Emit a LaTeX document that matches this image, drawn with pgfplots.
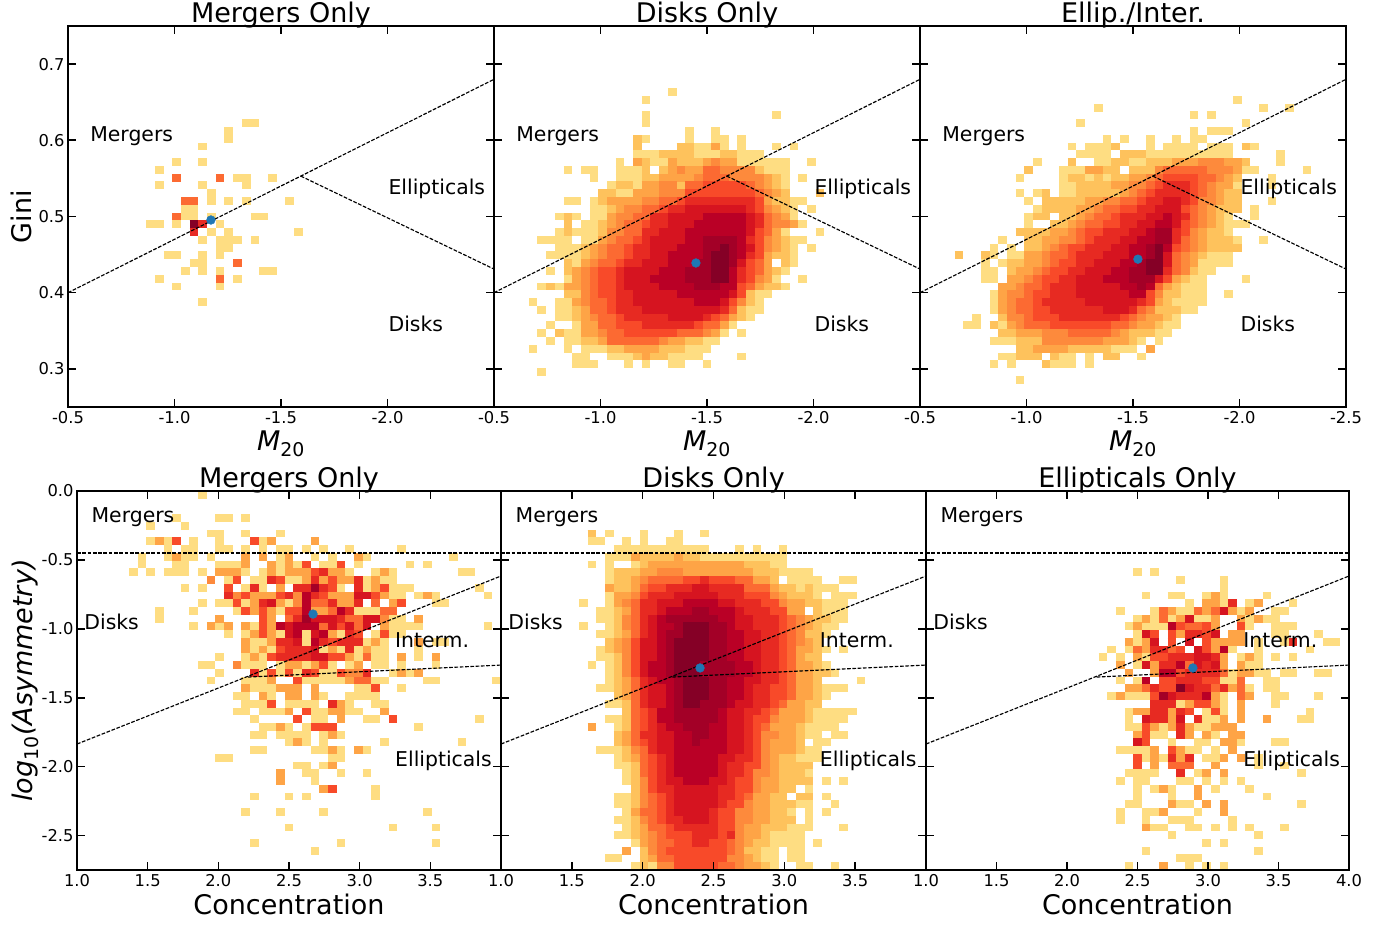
\documentclass[border=0pt]{standalone}
\usepackage{fontspec}
\setmainfont{DejaVu Sans}
\usepackage{pgfplots}
\pgfplotsset{compat=1.18}
\definecolor{c1}{HTML}{FEDD82}\definecolor{c2}{HTML}{FEC25C}\definecolor{c3}{HTML}{FEA446}
\definecolor{c4}{HTML}{FD8A3C}\definecolor{c5}{HTML}{FC6A32}\definecolor{c6}{HTML}{F84A29}
\definecolor{c7}{HTML}{E72A22}\definecolor{c8}{HTML}{D61420}\definecolor{c9}{HTML}{BA0026}
\definecolor{c10}{HTML}{A30027}\definecolor{c11}{HTML}{850026}\definecolor{dot}{HTML}{1F77B4}
\newcommand\fs[1]{\fontsize{#1}{#1}\selectfont}
\tikzset{lbl/.style={anchor=base west,inner sep=0pt,font=\fs{20.4}}}
\pgfplotsset{
 /pgfplots/table/tT/.style={header=false,row sep=crcr,
  x expr=-0.5-(2/49)*\thisrowno{1},
  y expr=0.75-(0.5/49)*(\thisrowno{0}+0.5),
  x error minus expr=(2/49)*(\thisrowno{2}+1-\thisrowno{1})},
 /pgfplots/table/tB/.style={header=false,row sep=crcr,
  x expr=1+(3/49)*\thisrowno{1},
  y expr=0-(2.75/49)*(\thisrowno{0}+0.5),
  x error plus expr=(3/49)*(\thisrowno{2}+1-\thisrowno{1})},
 eT/.style={forget plot,draw=none,mark=none,error bars/x dir=minus,error bars/x explicit,
  error bars/error mark=none,error bars/error bar style={line width=7.85pt,draw=#1,solid}},
 eB/.style={forget plot,draw=none,mark=none,error bars/x dir=plus,error bars/x explicit,
  error bars/error mark=none,error bars/error bar style={line width=7.8pt,draw=#1,solid}},
 common/.style={scale only axis,anchor=south west,axis on top,clip=true,
  axis line style={line width=2.2pt},tick style={black,line width=1.6pt},major tick length=8pt,
  tick align=inside,xtick pos=both,ytick pos=both,
  tick label style={font=\fs{16.3}},
  title style={font=\fs{27},at={(axis description cs:0.5,1)},anchor=base,yshift=-3pt},
  xlabel style={font=\fs{27},at={(axis description cs:0.5,0)},anchor=base,yshift=-44pt},
  ylabel style={font=\fs{27}},
  xticklabel style={yshift=-1pt}},
 top/.style={common,width=426pt,height=381pt,x dir=reverse,xmin=-2.5,xmax=-0.5,ymin=0.25,ymax=0.75,
  xtick={-0.5,-1,-1.5,-2,-2.5},ytick={0.3,0.4,0.5,0.6,0.7},
  xticklabels={-0.5,-1.0,-1.5,-2.0,{}},
  xlabel={\textit{M}\textsubscript{20}},
  ylabel style={at={(axis description cs:-0.0845,0.5)},anchor=base}},
 bot/.style={common,height=379pt,xmin=1,xmax=4,ymin=-2.75,ymax=0,
  xtick={1,1.5,2,2.5,3,3.5,4},ytick={-2.5,-2,-1.5,-1,-0.5,0},
  xticklabels={1.0,1.5,2.0,2.5,3.0,3.5,{}},xlabel={Concentration},
  ylabel style={at={(axis description cs:-0.104,0.5)},anchor=base}},
 noy/.style={yticklabels={}},
 dsh/.style={black,line width=1.15pt,dash pattern=on 3.7pt off 1.6pt,forget plot},
 dotp/.style={only marks,mark=*,mark size=4.4pt,color=dot,mark options={draw=dot,fill=dot},forget plot}
}
\newcommand\rT[2]{\addplot[eT={#1}] table[tT]{#2};}
\newcommand\rB[2]{\addplot[eB={#1}] table[tB]{#2};}
\newcommand\topextras{
 \addplot[dsh] coordinates {(-0.5,0.40) (-2.5,0.68)};
 \addplot[dsh] coordinates {(-1.593,0.553) (-2.5,0.431)};
 \node[lbl] at (axis description cs:0.052,0.697) {Mergers};
 \node[lbl] at (axis description cs:0.752,0.558) {Ellipticals};
 \node[lbl] at (axis description cs:0.752,0.197) {Disks};
}
\newcommand\botextras{
 \addplot[dsh] coordinates {(1,-1.836) (4,-0.617)};
 \addplot[dsh] coordinates {(2.21,-1.35) (4,-1.263)};
 \addplot[dsh] coordinates {(1,-0.45) (4,-0.45)};
 \node[lbl] at (axis description cs:0.034,0.918) {Mergers};
 \node[lbl] at (axis description cs:0.017,0.635) {Disks};
 \node[lbl] at (axis description cs:0.75,0.588) {Interm.};
 \node[lbl] at (axis description cs:0.75,0.272) {Ellipticals};
}
\begin{document}
\begin{tikzpicture}[x=1pt,y=1pt]
\useasboundingbox (0,0) rectangle (1390,924);
% ---------- top left
\begin{axis}[top,at={(68pt,517pt)},title={Mergers Only},ylabel={Gini},yticklabels={0.3,0.4,0.5,0.6,0.7}]
\rT{c1}{12 20 21\\13 18 18\\14 18 18\\15 15 15\\17 12 12\\17 15 15\\18 10 10\\19 19 20\\19 23 23\\20 10 10\\20 15 15\\20 20 20\\21 16 16\\22 16 16\\22 18 18\\22 20 20\\22 25 25\\23 13 14\\24 13 14\\24 16 16\\24 21 22\\25 9 10\\25 12 12\\25 17 17\\26 16 16\\26 18 18\\26 26 26\\27 15 15\\27 17 19\\27 21 21\\28 17 18\\29 11 12\\29 15 15\\29 17 17\\30 14 15\\31 13 13\\31 15 15\\31 17 17\\31 22 23\\32 10 10\\32 19 19\\33 12 12\\33 17 17\\35 15 15\\}
\rT{c5}{19 12 12\\19 17 17\\22 13 14\\24 12 12\\30 19 19\\32 17 17\\}
\rT{c7}{25 15 15\\26 14 14\\}
\rT{c11}{25 14 14\\}
\addplot[dotp] coordinates {(-1.171,0.4954)};
\topextras
\end{axis}
% ---------- top middle
\begin{axis}[top,at={(494pt,517pt)},title={Disks Only},noy]
\rT{c1}{8 20 20\\9 17 17\\11 17 17\\11 32 32\\12 17 17\\13 22 22\\13 25 25\\14 16 17\\14 22 22\\14 25 26\\14 28 28\\15 16 16\\15 21 26\\15 28 28\\15 32 32\\15 34 34\\16 16 30\\17 14 14\\17 16 33\\17 36 36\\18 8 8\\18 10 11\\18 14 17\\18 19 33\\19 11 11\\19 14 33\\19 35 35\\20 13 33\\21 12 33\\21 37 37\\22 8 9\\22 11 35\\23 11 34\\23 36 36\\24 7 9\\24 11 34\\25 8 8\\25 10 35\\26 7 33\\26 37 37\\27 5 8\\27 10 35\\28 7 34\\28 36 36\\29 6 34\\30 8 31\\30 33 34\\31 6 6\\31 8 33\\32 8 8\\32 10 32\\32 35 35\\33 5 33\\34 8 31\\35 4 4\\35 7 30\\36 5 5\\36 7 30\\37 7 29\\38 6 6\\38 9 27\\39 5 5\\39 7 26\\39 28 28\\40 6 6\\40 8 25\\41 4 4\\41 8 8\\41 10 24\\42 9 10\\42 13 23\\42 28 28\\43 9 11\\43 15 15\\43 17 17\\43 20 21\\43 24 24\\44 5 5\\}
\rT{c2}{14 16 16\\15 16 16\\15 21 22\\15 25 25\\16 19 22\\16 26 27\\17 16 17\\17 20 27\\18 17 17\\18 19 30\\19 17 32\\20 14 15\\20 17 32\\21 12 13\\21 16 33\\21 37 37\\22 12 33\\23 13 33\\24 8 8\\24 13 33\\25 8 8\\25 12 34\\26 8 8\\26 12 32\\27 12 33\\28 10 33\\29 10 33\\30 8 8\\30 10 31\\30 33 33\\31 8 32\\32 10 31\\33 6 6\\33 8 32\\34 8 29\\35 9 29\\36 9 28\\37 9 28\\38 10 26\\39 7 7\\39 10 25\\40 10 23\\41 13 21\\42 16 19\\}
\rT{c3}{15 25 25\\17 16 16\\17 20 20\\17 24 27\\18 20 29\\19 19 31\\20 17 20\\20 22 31\\21 16 32\\22 13 31\\23 14 32\\24 13 33\\25 13 34\\26 13 32\\27 12 32\\28 11 32\\29 11 31\\30 10 31\\31 9 31\\32 9 31\\33 8 30\\34 10 28\\35 9 28\\36 10 27\\37 10 27\\38 10 26\\39 10 25\\40 12 21\\41 15 18\\42 17 17\\}
\rT{c4}{17 25 25\\18 21 21\\18 24 29\\19 23 30\\20 19 20\\20 22 30\\21 19 31\\22 17 30\\23 15 31\\24 14 32\\25 14 33\\26 13 31\\27 13 31\\28 12 31\\29 12 30\\30 11 30\\31 10 30\\32 10 30\\33 10 29\\34 10 28\\35 10 28\\36 11 27\\37 11 26\\38 12 25\\39 12 24\\40 13 19\\}
\rT{c5}{18 24 25\\19 24 26\\20 22 29\\21 22 30\\22 19 30\\23 17 30\\24 16 31\\25 15 31\\26 15 31\\27 14 30\\28 13 30\\29 13 30\\30 12 30\\31 11 30\\32 11 29\\33 11 29\\34 11 28\\35 11 27\\36 11 27\\37 12 26\\38 12 25\\39 13 23\\40 13 18\\}
\rT{c6}{20 24 28\\21 22 29\\22 21 30\\23 19 30\\24 18 30\\25 17 30\\26 17 30\\27 16 30\\28 15 30\\29 15 30\\30 14 29\\31 12 29\\32 12 29\\33 12 28\\34 12 28\\35 13 27\\36 13 26\\37 14 25\\38 14 23\\39 15 20\\}
\rT{c7}{22 22 29\\23 20 29\\24 18 30\\25 18 30\\26 17 29\\27 17 29\\28 16 29\\29 16 29\\30 15 28\\31 14 28\\32 14 28\\33 14 27\\34 14 27\\35 14 26\\36 14 26\\37 15 24\\38 17 22\\}
\rT{c8}{23 22 28\\24 20 29\\25 20 29\\26 19 29\\27 18 28\\28 18 29\\29 18 28\\30 17 28\\31 15 27\\32 15 27\\33 15 27\\34 16 27\\35 16 26\\36 17 25\\37 20 23\\}
\rT{c9}{24 24 28\\25 23 28\\26 22 28\\27 22 28\\28 21 28\\29 20 28\\30 20 27\\31 19 27\\32 18 27\\33 19 27\\34 21 26\\35 23 25\\}
\rT{c10}{27 24 27\\28 24 27\\29 24 27\\30 23 27\\31 22 26\\32 22 26\\33 23 25\\}
\rT{c11}{28 26 26\\29 25 26\\30 25 26\\31 25 26\\32 25 26\\}
\addplot[dotp] coordinates {(-1.448,0.439)};
\topextras
\end{axis}
% ---------- top right
\begin{axis}[top,at={(920pt,517pt)},title={Ellip./Inter.},noy,xticklabels={-0.5,-1.0,-1.5,-2.0,-2.5}]
\rT{c1}{9 36 36\\10 20 20\\10 39 39\\10 42 42\\11 31 31\\11 33 33\\12 18 18\\12 37 37\\13 31 31\\13 33 35\\14 21 21\\14 23 23\\14 26 26\\14 29 29\\14 31 32\\15 17 17\\15 19 22\\15 26 26\\15 28 31\\15 33 35\\15 37 38\\16 18 21\\16 23 35\\16 41 41\\17 13 13\\17 17 17\\17 20 37\\17 41 41\\18 12 12\\18 16 22\\18 24 38\\18 44 44\\19 11 11\\19 16 36\\19 40 40\\20 16 36\\20 40 40\\21 11 11\\21 13 14\\21 16 36\\22 12 12\\22 14 36\\22 40 40\\23 13 36\\23 38 38\\24 12 14\\24 16 35\\24 38 38\\25 12 12\\25 15 37\\26 11 35\\27 9 9\\27 12 36\\27 39 39\\28 8 8\\28 10 10\\28 12 36\\29 4 4\\29 7 8\\29 10 35\\30 7 7\\30 9 35\\31 7 8\\31 10 33\\32 7 8\\32 10 32\\32 37 37\\33 9 32\\34 8 32\\34 35 35\\35 8 32\\36 8 31\\37 6 6\\37 9 29\\38 5 6\\38 8 29\\39 9 28\\40 8 25\\40 27 27\\41 11 24\\41 26 26\\42 9 13\\42 15 17\\42 19 19\\42 21 22\\42 25 25\\43 8 8\\43 10 10\\43 14 17\\43 19 19\\45 11 11\\}
\rT{c2}{15 22 22\\15 37 37\\16 23 25\\17 17 17\\17 22 23\\17 26 37\\18 12 12\\18 19 22\\18 24 36\\19 17 18\\19 20 20\\19 22 36\\20 18 35\\21 14 14\\21 18 36\\22 14 36\\23 14 36\\24 13 14\\24 16 34\\25 15 34\\26 11 34\\27 12 35\\28 12 36\\29 4 4\\29 7 7\\29 12 32\\30 10 31\\31 10 31\\32 10 30\\33 9 29\\34 9 29\\35 9 28\\36 9 29\\37 9 28\\38 8 8\\38 10 27\\39 9 26\\40 11 24\\41 11 21\\41 26 26\\42 11 13\\42 15 15\\42 21 22\\43 14 14\\}
\rT{c3}{17 29 36\\18 19 20\\18 27 36\\19 24 35\\20 22 35\\21 23 34\\22 19 34\\23 18 33\\24 18 33\\25 17 33\\26 15 32\\27 14 32\\28 14 32\\29 12 31\\30 12 31\\31 11 30\\32 10 29\\33 9 28\\34 9 27\\35 9 27\\36 9 26\\37 10 27\\38 10 26\\39 11 23\\40 14 23\\41 13 16\\41 26 26\\}
\rT{c4}{17 32 34\\18 27 35\\19 26 34\\20 24 33\\21 24 33\\22 21 33\\23 20 32\\24 19 32\\25 18 32\\26 17 31\\27 16 31\\28 15 31\\29 14 30\\30 14 30\\31 13 30\\32 12 28\\33 11 27\\34 10 27\\35 10 26\\36 10 26\\37 10 25\\38 11 24\\39 14 22\\40 14 20\\}
\rT{c5}{18 28 32\\19 27 33\\20 26 32\\21 25 32\\22 23 31\\23 21 31\\24 20 31\\25 19 31\\26 18 30\\27 18 30\\28 16 30\\29 15 29\\30 15 29\\31 14 29\\32 13 28\\33 12 27\\34 12 26\\35 11 26\\36 11 25\\37 12 24\\38 12 23\\39 17 21\\}
\rT{c6}{19 28 31\\20 27 31\\21 26 31\\22 25 31\\23 23 30\\24 22 30\\25 21 30\\26 19 30\\27 19 29\\28 17 29\\29 17 28\\30 16 28\\31 15 28\\32 14 28\\33 14 26\\34 13 26\\35 13 26\\36 13 24\\37 13 23\\38 15 21\\}
\rT{c7}{20 28 30\\21 27 30\\22 26 30\\23 25 29\\24 23 30\\25 23 29\\26 21 29\\27 20 29\\28 19 28\\29 18 28\\30 18 28\\31 17 28\\32 16 27\\33 15 26\\34 15 25\\35 14 25\\36 15 24\\37 16 22\\}
\rT{c8}{22 28 29\\23 27 29\\24 26 29\\25 25 29\\26 24 28\\27 23 28\\28 22 28\\29 21 28\\30 20 28\\31 19 27\\32 18 27\\33 18 26\\34 18 25\\35 19 24\\36 21 23\\}
\rT{c9}{24 28 28\\25 27 28\\26 26 28\\27 25 28\\28 24 28\\29 24 27\\30 23 27\\31 22 27\\32 21 26\\33 23 26\\34 24 25\\}
\rT{c10}{26 27 28\\27 27 28\\28 26 27\\29 26 27\\30 25 27\\31 24 26\\32 24 26\\33 25 25\\}
\rT{c11}{28 27 27\\29 27 27\\30 26 27\\31 26 27\\}
\addplot[dotp] coordinates {(-1.523,0.444)};
\topextras
\end{axis}
% ---------- bottom left
\begin{axis}[bot,width=424pt,at={(77pt,54pt)},title={Mergers Only},ylabel={\textit{log}\textsubscript{10}\textit{(Asymmetry)}},yticklabels={-2.5,-2.0,-1.5,-1.0,-0.5,0.0}]
\rB{c1}{0 14 14\\3 11 11\\3 16 17\\3 19 19\\4 8 8\\4 12 12\\5 15 16\\5 19 19\\5 23 23\\6 8 8\\6 10 10\\6 13 13\\6 16 16\\6 21 21\\7 10 10\\7 12 13\\7 16 17\\7 19 19\\7 21 21\\7 23 24\\7 26 26\\7 28 28\\7 31 31\\7 37 37\\8 7 7\\8 10 10\\8 12 13\\8 15 15\\8 23 23\\8 27 27\\8 29 29\\8 33 33\\8 43 43\\9 7 7\\9 11 12\\9 16 18\\9 23 23\\9 25 25\\9 28 29\\9 32 32\\9 38 38\\9 40 40\\10 6 6\\10 8 8\\10 10 12\\10 14 14\\10 19 19\\10 21 21\\10 23 23\\10 31 31\\10 34 34\\10 36 36\\10 44 45\\11 17 17\\11 20 21\\11 24 25\\11 33 33\\11 35 36\\12 12 12\\12 14 14\\12 19 19\\12 21 21\\12 30 30\\12 33 33\\12 36 38\\12 46 46\\13 36 37\\13 39 39\\13 41 41\\13 47 47\\14 14 14\\14 16 17\\14 19 19\\14 24 24\\14 41 42\\15 9 9\\15 13 13\\15 18 18\\15 23 23\\15 32 34\\16 9 9\\16 36 37\\17 13 13\\17 16 16\\17 20 20\\17 36 39\\17 47 47\\18 17 17\\18 19 19\\18 23 23\\18 26 26\\18 30 30\\18 34 34\\18 36 37\\19 20 21\\19 26 26\\19 33 33\\19 35 35\\19 41 42\\20 20 20\\20 22 22\\20 28 28\\20 30 30\\20 32 32\\20 34 35\\20 39 39\\21 16 16\\21 19 19\\21 21 21\\21 32 32\\21 34 35\\21 39 39\\22 14 15\\22 19 21\\22 23 23\\22 26 26\\22 29 29\\22 31 31\\22 34 35\\22 37 37\\22 41 41\\23 16 16\\23 21 21\\23 23 23\\23 25 25\\23 28 29\\23 36 36\\23 38 38\\24 15 15\\24 19 21\\24 26 30\\24 34 35\\24 40 41\\24 48 48\\25 20 22\\25 32 33\\25 37 37\\26 18 19\\26 22 22\\26 28 28\\26 31 34\\27 19 21\\27 24 27\\27 31 31\\27 34 35\\28 18 19\\28 21 23\\28 27 28\\28 31 32\\29 20 20\\29 27 28\\29 33 34\\29 46 46\\30 21 22\\30 24 24\\30 26 26\\30 39 39\\31 20 21\\31 23 26\\31 28 28\\31 30 30\\32 24 24\\32 26 26\\32 28 28\\32 35 35\\32 44 44\\33 20 21\\33 27 28\\33 30 30\\33 33 33\\34 16 17\\34 29 30\\35 25 26\\35 28 28\\36 26 27\\36 30 30\\36 33 33\\37 27 27\\38 34 34\\39 20 20\\39 24 24\\39 26 26\\39 34 34\\41 19 19\\41 23 23\\41 28 28\\41 40 40\\43 24 24\\43 36 36\\43 41 41\\45 20 20\\45 30 30\\45 41 41\\46 27 27\\}
\rB{c3}{6 9 9\\6 22 22\\6 27 27\\8 11 11\\8 19 19\\8 21 21\\8 24 24\\8 32 32\\9 19 19\\9 22 22\\9 24 24\\10 16 18\\10 22 22\\10 24 26\\10 29 30\\10 35 35\\11 26 26\\11 28 28\\11 30 31\\11 34 34\\12 23 23\\12 34 34\\13 20 22\\13 29 31\\13 35 35\\13 40 40\\14 20 20\\14 23 23\\14 30 31\\14 36 36\\15 20 20\\15 22 22\\15 27 28\\16 16 16\\16 22 22\\16 39 39\\17 15 15\\17 17 17\\17 19 19\\17 22 22\\17 35 35\\18 20 20\\18 22 22\\18 29 29\\19 19 19\\19 22 22\\19 34 34\\19 39 39\\20 19 19\\20 21 21\\20 29 29\\20 33 33\\21 20 20\\21 31 31\\21 37 37\\21 41 41\\22 24 25\\22 27 27\\22 32 32\\23 37 37\\23 39 39\\24 22 22\\24 31 31\\25 19 19\\25 23 25\\25 27 27\\26 21 21\\26 24 25\\26 27 27\\27 30 30\\28 24 24\\28 29 30\\28 35 35\\29 30 30\\30 23 23\\31 29 29\\32 25 25\\33 29 29\\33 32 32\\35 29 29\\36 23 23\\37 23 23\\38 28 28\\}
\rB{c4}{11 15 15\\13 18 18\\13 25 25\\14 25 25\\16 35 35\\22 18 18\\23 31 32\\}
\rB{c5}{14 27 28\\14 34 34\\15 29 29\\15 35 36\\16 24 24\\16 31 32\\17 28 28\\17 32 32\\21 33 33\\24 32 33\\}
\rB{c6}{6 11 11\\6 20 20\\9 26 26\\9 30 30\\10 27 27\\11 18 18\\11 23 23\\11 29 29\\12 17 17\\12 29 29\\12 35 35\\13 19 19\\13 23 23\\13 28 28\\13 34 34\\14 18 18\\14 37 37\\15 19 19\\15 21 21\\15 24 25\\16 21 21\\17 21 21\\17 30 30\\18 21 21\\18 32 32\\18 35 35\\19 29 29\\20 23 23\\21 22 22\\21 29 30\\22 28 28\\23 22 22\\23 24 24\\23 27 27\\23 30 30\\24 25 25\\25 34 34\\27 22 22\\28 26 26\\29 25 25\\29 36 36\\30 27 29\\38 29 29\\}
\rB{c7}{10 28 28\\11 22 22\\11 27 27\\11 32 32\\12 20 20\\12 25 26\\12 28 28\\12 32 32\\13 17 17\\13 24 24\\13 27 27\\14 21 21\\14 29 29\\14 32 32\\15 31 31\\16 25 25\\16 30 30\\18 31 31\\19 23 24\\19 28 28\\19 30 32\\20 24 26\\20 31 31\\21 23 26\\23 20 20\\23 26 26\\23 33 33\\27 29 29\\}
\rB{c8}{13 32 33\\14 22 22\\16 27 29\\16 33 34\\17 24 24\\17 29 29\\17 31 31\\17 33 33\\18 24 24\\18 27 27\\19 25 25\\20 27 27\\21 27 28\\}
\rB{c9}{13 26 26\\14 26 26\\15 26 26\\15 30 30\\17 23 23\\17 25 27\\18 25 25\\18 28 28\\19 27 27\\}
\rB{c10}{12 27 27\\16 26 26\\}
\addplot[dotp] coordinates {(2.67,-0.893)};
\botextras
\end{axis}
% ---------- bottom middle
\begin{axis}[bot,width=425pt,at={(501pt,54pt)},title={Disks Only},noy]
\rB{c1}{5 10 10\\5 12 12\\5 16 16\\5 20 20\\5 23 23\\6 10 11\\6 14 14\\6 16 16\\6 19 20\\7 13 23\\7 27 27\\7 29 29\\7 32 32\\8 12 32\\9 10 10\\9 12 12\\9 15 32\\10 12 35\\11 12 31\\11 33 36\\11 39 40\\12 12 38\\13 12 36\\13 38 40\\14 9 9\\14 12 39\\15 11 34\\15 36 39\\16 11 39\\17 9 9\\17 12 38\\18 11 37\\19 12 36\\20 11 37\\20 39 39\\21 11 36\\22 10 10\\22 12 37\\23 12 38\\24 12 36\\24 41 41\\25 11 39\\26 13 37\\27 12 36\\28 14 40\\29 12 39\\30 13 38\\31 13 36\\31 38 39\\32 13 34\\32 36 37\\33 11 36\\34 13 36\\35 13 35\\36 14 35\\37 14 35\\37 37 37\\37 39 39\\38 15 33\\38 35 35\\39 13 32\\39 34 35\\39 37 37\\40 13 35\\40 38 38\\41 14 33\\41 35 35\\41 37 37\\42 13 33\\42 35 35\\43 14 35\\43 39 39\\44 13 34\\45 15 34\\45 36 36\\46 16 31\\46 33 34\\47 12 13\\47 16 31\\47 33 34\\48 15 31\\48 34 35\\48 38 38\\}
\rB{c2}{5 10 10\\8 15 22\\9 16 30\\10 13 31\\11 13 31\\12 12 33\\12 35 35\\13 13 35\\14 13 36\\15 13 34\\15 36 36\\16 13 37\\17 13 36\\18 13 36\\19 12 36\\20 12 36\\21 13 36\\22 13 36\\23 13 37\\24 13 36\\25 13 36\\26 13 36\\27 14 36\\28 14 35\\29 14 35\\30 14 34\\31 13 34\\32 13 34\\33 14 34\\34 14 33\\35 15 35\\36 15 34\\37 15 35\\38 15 33\\39 15 32\\39 34 35\\40 15 33\\41 15 32\\42 15 33\\43 15 32\\44 15 30\\45 16 30\\46 16 29\\47 16 29\\48 16 16\\48 18 30\\}
\rB{c3}{8 15 15\\8 20 20\\9 17 27\\10 16 28\\11 15 30\\12 12 12\\12 15 31\\13 13 32\\14 13 34\\15 14 34\\16 14 35\\17 14 35\\18 14 34\\19 13 35\\20 13 35\\21 14 34\\22 14 35\\23 14 35\\24 14 35\\25 14 35\\26 14 35\\27 15 34\\28 15 34\\29 15 34\\30 15 33\\30 10 10\\31 14 33\\32 14 33\\33 15 33\\34 15 31\\35 16 31\\36 16 31\\37 16 31\\38 16 31\\39 16 30\\40 16 30\\41 15 30\\42 16 30\\43 16 29\\44 16 29\\45 16 28\\46 14 14\\46 17 27\\47 17 28\\48 18 29\\}
\rB{c4}{10 18 20\\11 16 28\\12 16 30\\13 15 31\\14 14 32\\15 15 32\\16 14 34\\17 14 34\\18 15 34\\19 14 34\\20 14 33\\21 14 33\\22 14 33\\23 14 33\\24 15 33\\25 15 33\\26 15 33\\27 15 32\\28 15 31\\29 15 31\\30 15 30\\31 15 31\\32 15 30\\33 15 30\\34 16 30\\35 16 30\\36 16 30\\37 16 29\\38 16 29\\39 16 28\\40 16 28\\41 16 28\\42 16 28\\43 17 27\\44 17 27\\45 17 27\\46 17 27\\47 18 27\\48 18 27\\}
\rB{c5}{11 17 28\\12 16 30\\13 16 30\\14 15 31\\15 15 32\\16 15 33\\17 15 33\\18 15 33\\19 15 33\\20 15 33\\21 15 33\\22 15 33\\23 15 33\\24 15 33\\25 15 33\\26 15 33\\27 15 32\\28 15 31\\29 15 30\\30 15 30\\31 15 29\\32 15 29\\33 16 29\\34 16 29\\35 16 28\\36 16 28\\37 17 28\\38 17 28\\39 17 28\\40 17 27\\41 16 26\\42 17 26\\43 17 26\\44 18 26\\45 18 26\\46 18 26\\47 18 25\\48 20 26\\}
\rB{c6}{11 21 26\\12 17 27\\13 16 30\\14 16 31\\15 16 32\\16 16 32\\17 16 32\\18 16 32\\19 15 32\\20 15 32\\21 15 32\\22 15 32\\23 15 32\\24 16 32\\25 16 32\\26 16 32\\27 16 31\\28 16 30\\29 16 30\\30 16 29\\31 16 29\\32 16 29\\33 17 29\\34 17 29\\35 17 29\\36 17 28\\37 17 28\\38 17 28\\39 18 27\\40 18 27\\41 18 26\\42 18 26\\43 19 26\\44 19 26\\45 20 25\\46 19 25\\47 20 25\\48 20 24\\}
\rB{c7}{11 23 23\\12 19 27\\13 17 27\\14 16 29\\15 16 30\\16 16 31\\17 16 31\\18 16 31\\19 16 31\\20 16 31\\21 16 31\\22 16 31\\23 16 31\\24 16 31\\25 16 30\\26 16 30\\27 16 30\\28 17 29\\29 17 28\\30 17 28\\31 16 28\\32 17 28\\33 17 28\\34 18 28\\35 18 27\\36 18 27\\37 18 26\\38 18 26\\39 19 26\\40 19 25\\41 19 24\\42 19 24\\43 20 24\\44 22 24\\44 26 26\\45 22 23\\}
\rB{c8}{12 22 23\\13 20 24\\14 18 26\\15 18 27\\16 17 28\\17 17 28\\18 17 29\\19 16 29\\20 16 29\\21 16 29\\22 16 29\\23 16 29\\24 17 29\\25 17 28\\26 17 28\\27 17 28\\28 18 27\\29 18 27\\30 18 27\\31 18 27\\32 18 27\\33 18 27\\34 19 26\\35 19 25\\36 19 25\\37 19 25\\38 20 24\\39 20 24\\40 20 24\\41 20 23\\42 21 23\\}
\rB{c9}{14 21 24\\15 19 26\\16 18 26\\17 18 26\\18 18 27\\19 18 27\\20 18 27\\21 18 27\\22 17 28\\23 17 28\\24 18 27\\25 19 27\\26 19 27\\27 19 26\\28 18 25\\29 18 25\\30 19 25\\31 20 25\\32 20 25\\33 20 25\\34 20 24\\35 20 24\\36 20 24\\37 21 23\\}
\rB{c10}{15 22 23\\16 19 24\\17 20 25\\18 19 25\\19 19 25\\20 19 25\\21 19 25\\22 19 26\\23 19 26\\24 20 25\\25 20 25\\26 20 25\\27 20 25\\28 20 24\\29 20 24\\30 21 23\\31 22 23\\32 22 22\\}
\rB{c11}{17 21 23\\18 21 23\\19 20 23\\20 20 23\\21 20 23\\22 20 22\\23 20 22\\24 21 23\\25 21 23\\26 21 23\\27 21 22\\}
\addplot[dotp] coordinates {(2.405,-1.284)};
\botextras
\end{axis}
% ---------- bottom right
\begin{axis}[bot,width=423pt,at={(926pt,54pt)},title={Ellipticals Only},noy,xticklabels={1.0,1.5,2.0,2.5,3.0,3.5,4.0}]
\rB{c1}{10 24 24\\10 26 26\\11 29 29\\11 34 34\\12 34 34\\13 25 25\\13 28 29\\13 32 32\\13 34 34\\13 39 39\\14 30 30\\14 34 34\\14 37 37\\14 42 42\\15 22 22\\15 26 26\\15 29 30\\15 36 36\\15 40 41\\16 24 24\\16 26 26\\16 28 28\\16 31 32\\16 37 37\\16 39 40\\17 23 23\\17 25 27\\17 37 37\\17 40 42\\18 24 24\\18 40 41\\18 45 45\\19 24 24\\19 38 38\\19 41 41\\19 46 47\\20 21 21\\20 23 23\\20 35 35\\20 38 38\\20 44 44\\21 20 20\\21 22 22\\21 25 25\\21 36 36\\21 38 38\\21 40 40\\21 42 42\\22 24 24\\22 37 38\\23 35 35\\23 38 39\\23 41 42\\23 45 46\\24 22 22\\24 24 24\\24 34 35\\24 39 40\\25 37 37\\25 39 40\\26 21 21\\26 23 25\\26 34 34\\26 40 41\\26 45 45\\27 29 29\\27 34 34\\27 40 40\\28 23 23\\28 32 32\\28 34 34\\28 44 44\\29 23 23\\29 32 33\\29 43 44\\30 23 24\\30 27 27\\30 31 32\\31 26 27\\31 33 33\\32 28 28\\32 31 32\\32 36 36\\32 40 41\\33 22 25\\33 30 31\\33 33 33\\34 25 25\\34 27 27\\34 32 33\\34 38 38\\35 38 38\\35 41 41\\36 23 26\\36 31 31\\36 43 43\\37 22 22\\37 24 25\\37 29 30\\37 32 32\\37 34 34\\37 36 36\\38 24 24\\38 26 26\\38 28 28\\38 33 33\\38 37 37\\39 24 24\\39 28 28\\39 39 39\\40 23 24\\40 29 30\\40 43 43\\41 22 22\\41 25 26\\41 31 31\\42 22 22\\42 25 25\\42 28 30\\42 35 35\\43 26 27\\43 30 31\\43 33 33\\43 35 35\\43 37 37\\43 41 41\\44 28 28\\44 38 38\\45 32 32\\45 34 34\\46 25 25\\46 38 38\\47 29 31\\48 23 23\\48 30 30\\48 32 32\\48 34 34\\}
\rB{c3}{13 33 33\\14 32 33\\14 38 38\\15 28 28\\15 32 32\\15 35 35\\15 37 37\\16 25 25\\16 29 29\\16 33 33\\16 36 36\\16 38 38\\17 24 24\\17 33 33\\18 29 29\\18 35 36\\19 23 23\\19 25 25\\19 33 36\\20 25 25\\20 33 33\\21 24 24\\21 34 34\\21 37 37\\22 22 22\\22 26 26\\22 34 34\\22 36 36\\23 23 23\\23 26 26\\23 36 37\\25 23 24\\25 35 35\\26 22 22\\26 33 33\\26 37 37\\27 30 30\\27 33 33\\27 36 36\\28 24 25\\28 28 28\\28 36 36\\29 28 28\\29 34 34\\29 36 36\\29 39 39\\30 26 26\\30 28 28\\30 30 30\\30 33 35\\31 24 24\\31 30 30\\31 32 32\\31 35 36\\32 34 35\\33 26 26\\33 29 29\\33 35 35\\34 26 26\\34 29 29\\34 34 34\\34 36 36\\35 26 26\\35 33 33\\36 32 32\\36 34 34\\38 27 27\\38 31 31\\39 31 31\\40 28 28\\40 32 32\\40 34 34\\41 27 27\\41 34 34\\43 25 25\\48 27 27\\}
\rB{c5}{15 27 27\\15 31 31\\15 33 33\\16 27 27\\17 30 31\\20 24 24\\20 28 28\\22 30 30\\23 34 34\\24 36 36\\25 25 25\\25 33 33\\25 36 36\\26 36 36\\35 28 30\\}
\rB{c6}{17 29 29\\17 32 32\\17 36 36\\18 26 26\\18 28 28\\18 32 32\\19 28 28\\19 32 32\\20 29 29\\20 32 32\\21 26 27\\23 29 29\\24 27 28\\24 32 33\\25 27 28\\26 26 26\\27 31 32\\28 30 30\\28 33 33\\30 25 25\\31 25 25\\32 25 25\\33 28 28\\34 24 24\\35 24 24\\}
\rB{c7}{14 35 35\\18 30 31\\19 42 42\\20 26 27\\21 28 30\\21 33 33\\22 27 28\\22 32 32\\23 30 33\\24 29 31\\25 26 26\\25 31 32\\25 34 34\\26 29 31\\27 26 28\\28 26 27\\28 29 29\\29 26 27\\29 31 31\\30 29 29\\31 29 29\\34 28 28\\34 30 30\\36 29 29\\}
\rB{c8}{15 34 34\\16 30 30\\18 25 25\\18 33 33\\19 26 26\\19 30 30\\20 31 31\\21 31 32\\22 25 25\\22 31 31\\22 33 33\\25 30 30\\26 28 28\\29 25 25\\29 29 29\\32 24 24\\}
\rB{c9}{17 28 28\\20 34 34\\22 29 29\\23 27 28\\24 25 25\\26 32 32\\}
\rB{c10}{26 27 27\\}
\rB{c11}{25 29 29\\}
\addplot[dotp] coordinates {(2.893,-1.284)};
\botextras
\end{axis}
\end{tikzpicture}
\end{document}
